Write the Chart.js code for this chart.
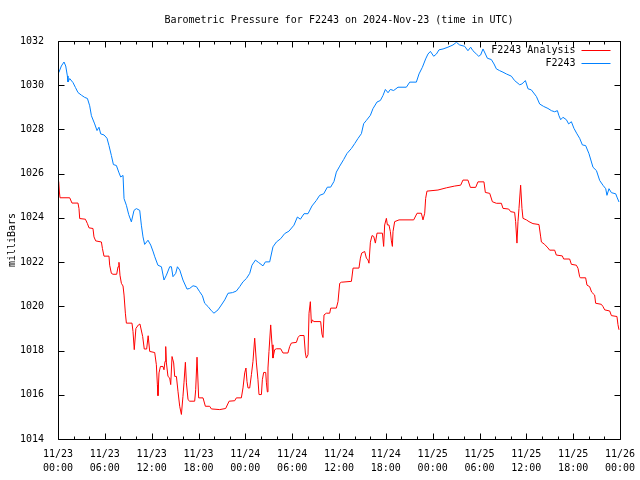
<!DOCTYPE html>
<html>
<head>
<meta charset="utf-8">
<script src="https://cdn.jsdelivr.net/npm/chart.js@4"></script>
<style>
  html, body { margin: 0; padding: 0; background: #fff; }
  canvas { display: block; }
</style>
</head>
<body>
<canvas id="pressure-chart" width="640" height="480"></canvas>
<script>
// hours since 11/23 00:00 UTC
const analysisHours = [0.09, 0.18, 0.26, 1.5, 1.79, 2.56, 2.69, 2.78, 3.51, 3.77, 3.97, 4.48, 4.61, 4.83, 5.56, 5.69, 5.89, 6.53, 6.62, 6.84, 7.05, 7.52, 7.69, 7.81, 7.94, 8.12, 8.33, 8.46, 8.63, 8.76, 9.48, 9.61, 9.77, 9.98, 10.3, 10.5, 10.85, 11.05, 11.36, 11.55, 11.75, 12.39, 12.6, 12.73, 12.81, 12.94, 13.12, 13.45, 13.58, 13.71, 13.8, 13.89, 14.09, 14.31, 14.44, 14.61, 14.82, 14.95, 15.17, 15.37, 15.59, 15.81, 16.01, 16.14, 16.32, 16.45, 16.66, 16.87, 17.51, 17.64, 17.81, 18.02, 18.58, 18.88, 19.43, 19.65, 20.72, 21.48, 21.92, 22.64, 22.85, 23.49, 23.7, 23.92, 24.08, 24.21, 24.34, 24.56, 24.78, 24.98, 25.2, 25.42, 25.62, 25.75, 26.06, 26.18, 26.35, 26.61, 26.7, 26.82, 26.9, 27.03, 27.25, 27.42, 27.54, 27.76, 27.98, 28.53, 28.82, 29.46, 29.68, 29.9, 30.54, 30.75, 30.96, 31.52, 31.69, 31.82, 32.03, 32.16, 32.33, 32.46, 32.59, 32.76, 33.65, 33.82, 33.95, 34.08, 34.38, 34.81, 34.94, 35.66, 35.87, 36.09, 36.3, 37.59, 37.8, 38.56, 38.74, 38.91, 39.29, 39.51, 39.71, 39.84, 40.02, 40.23, 40.45, 40.66, 40.87, 41.56, 41.72, 41.85, 42.07, 42.2, 42.4, 42.58, 42.71, 42.84, 42.92, 43.13, 43.69, 45.57, 46.0, 46.55, 46.76, 46.98, 47.1, 47.27, 48.68, 49.76, 50.82, 51.59, 51.88, 52.52, 52.83, 53.51, 53.8, 54.57, 54.75, 55.31, 55.65, 56.16, 56.8, 57.01, 57.74, 58.0, 58.5, 58.63, 58.8, 58.93, 59.06, 59.27, 59.44, 59.57, 60.01, 60.34, 60.85, 61.62, 61.84, 61.93, 62.35, 62.77, 62.99, 63.63, 63.84, 64.61, 64.78, 65.55, 65.77, 66.41, 66.62, 66.83, 66.92, 67.6, 67.77, 68.11, 68.37, 68.75, 68.88, 69.61, 69.82, 70.04, 70.68, 70.9, 71.61, 71.74, 71.87]
const analysisValues = [1025.65, 1025.17, 1024.91, 1024.91, 1024.67, 1024.67, 1024.42, 1023.97, 1023.94, 1023.74, 1023.55, 1023.52, 1023.14, 1022.96, 1022.91, 1022.62, 1022.27, 1022.27, 1021.86, 1021.49, 1021.45, 1021.45, 1021.79, 1021.99, 1021.41, 1021.04, 1020.92, 1020.51, 1019.69, 1019.24, 1019.24, 1018.86, 1018.04, 1019.0, 1019.16, 1019.2, 1018.63, 1018.07, 1018.07, 1018.67, 1017.96, 1017.91, 1017.36, 1016.46, 1015.96, 1016.99, 1017.28, 1017.28, 1017.13, 1017.51, 1018.18, 1017.44, 1016.83, 1016.76, 1016.46, 1017.73, 1017.44, 1016.83, 1016.83, 1016.16, 1015.48, 1015.11, 1015.93, 1016.54, 1017.47, 1016.54, 1015.78, 1015.71, 1015.71, 1016.23, 1017.7, 1015.86, 1015.86, 1015.48, 1015.48, 1015.36, 1015.33, 1015.38, 1015.71, 1015.73, 1015.86, 1015.86, 1016.31, 1016.99, 1017.21, 1016.61, 1016.31, 1016.31, 1016.91, 1017.51, 1018.56, 1017.44, 1016.68, 1016.01, 1016.01, 1016.68, 1017.01, 1017.01, 1016.54, 1016.13, 1017.21, 1017.96, 1019.16, 1018.26, 1017.66, 1018.04, 1018.08, 1018.08, 1017.89, 1017.89, 1018.18, 1018.34, 1018.37, 1018.59, 1018.68, 1018.68, 1017.89, 1017.66, 1017.81, 1019.69, 1020.21, 1019.24, 1019.39, 1019.31, 1019.31, 1018.74, 1018.59, 1019.61, 1019.69, 1019.69, 1019.92, 1019.92, 1020.21, 1021.04, 1021.09, 1021.13, 1021.73, 1021.73, 1022.18, 1022.41, 1022.48, 1022.18, 1022.1, 1021.95, 1022.9, 1023.2, 1023.16, 1022.86, 1023.31, 1023.31, 1022.71, 1023.68, 1023.98, 1023.68, 1023.68, 1023.38, 1022.96, 1022.71, 1023.38, 1023.83, 1023.91, 1023.91, 1024.21, 1024.21, 1023.91, 1024.21, 1024.88, 1025.21, 1025.26, 1025.36, 1025.44, 1025.48, 1025.71, 1025.71, 1025.38, 1025.38, 1025.63, 1025.63, 1025.15, 1025.11, 1024.73, 1024.66, 1024.66, 1024.43, 1024.4, 1024.28, 1024.25, 1023.83, 1022.86, 1023.83, 1024.43, 1025.48, 1024.43, 1023.98, 1023.91, 1023.83, 1023.74, 1023.7, 1023.14, 1022.91, 1022.8, 1022.64, 1022.54, 1022.54, 1022.32, 1022.28, 1022.14, 1022.14, 1021.9, 1021.86, 1021.72, 1021.34, 1021.29, 1021.29, 1020.96, 1020.89, 1020.64, 1020.51, 1020.14, 1020.09, 1019.99, 1019.84, 1019.79, 1019.58, 1019.54, 1019.17, 1018.94]

const stationHours = [0.1, 0.43, 0.77, 0.99, 1.2, 1.28, 1.5, 1.92, 2.23, 2.56, 3.0, 3.42, 3.77, 4.06, 4.28, 4.7, 5.0, 5.25, 5.47, 5.9, 6.28, 6.53, 6.84, 7.1, 7.48, 7.78, 8.03, 8.33, 8.46, 8.76, 9.06, 9.4, 9.74, 10.04, 10.47, 10.68, 10.89, 11.1, 11.53, 11.88, 12.2, 12.4, 12.8, 13.25, 13.58, 13.89, 14.31, 14.53, 14.73, 15.08, 15.3, 15.6, 16.01, 16.53, 16.87, 17.3, 17.73, 18.15, 18.5, 18.79, 19.22, 19.65, 19.98, 20.5, 20.93, 21.36, 21.78, 22.35, 22.85, 23.28, 23.7, 24.14, 24.56, 24.85, 25.29, 25.71, 26.26, 26.57, 27.12, 27.54, 27.98, 28.53, 29.04, 29.59, 30.23, 30.67, 31.05, 31.52, 32.03, 32.54, 33.1, 33.52, 34.04, 34.51, 34.93, 35.36, 35.66, 36.09, 36.6, 37.02, 37.59, 38.01, 38.43, 38.87, 39.16, 39.51, 40.02, 40.35, 40.87, 41.3, 41.64, 41.94, 42.28, 42.58, 43.0, 43.56, 44.63, 45.06, 45.91, 46.25, 46.68, 47.1, 47.4, 47.71, 48.13, 48.48, 48.81, 49.33, 49.96, 50.6, 51.04, 51.46, 52.1, 52.52, 52.87, 53.16, 53.6, 53.9, 54.15, 54.45, 54.76, 55.01, 55.52, 55.86, 56.16, 56.58, 57.01, 57.44, 58.08, 58.5, 59.15, 59.44, 59.88, 60.21, 60.64, 61.29, 61.71, 62.22, 62.77, 63.21, 63.63, 63.98, 64.18, 64.4, 64.69, 65.13, 65.42, 65.77, 66.1, 66.49, 66.83, 67.18, 67.6, 68.03, 68.54, 68.98, 69.4, 69.83, 70.17, 70.33, 70.59, 70.9, 71.45, 71.61, 71.87]
const stationValues = [1030.57, 1030.87, 1031.05, 1030.87, 1030.42, 1030.15, 1030.3, 1030.12, 1029.9, 1029.67, 1029.55, 1029.45, 1029.4, 1029.07, 1028.62, 1028.25, 1027.95, 1028.1, 1027.8, 1027.75, 1027.6, 1027.27, 1026.82, 1026.41, 1026.37, 1026.07, 1025.85, 1025.92, 1024.87, 1024.57, 1024.15, 1023.82, 1024.34, 1024.42, 1024.34, 1023.67, 1023.14, 1022.8, 1022.99, 1022.77, 1022.46, 1022.24, 1021.86, 1021.79, 1021.19, 1021.41, 1021.79, 1021.79, 1021.34, 1021.49, 1021.79, 1021.64, 1021.19, 1020.78, 1020.81, 1020.93, 1020.89, 1020.66, 1020.48, 1020.14, 1019.99, 1019.8, 1019.69, 1019.84, 1020.06, 1020.29, 1020.59, 1020.62, 1020.69, 1020.89, 1021.11, 1021.26, 1021.49, 1021.86, 1022.09, 1021.98, 1021.83, 1022.01, 1022.01, 1022.69, 1022.91, 1023.06, 1023.29, 1023.4, 1023.67, 1024.04, 1023.94, 1024.19, 1024.19, 1024.54, 1024.79, 1025.02, 1025.09, 1025.39, 1025.39, 1025.65, 1026.07, 1026.34, 1026.64, 1026.91, 1027.14, 1027.36, 1027.59, 1027.81, 1028.26, 1028.41, 1028.64, 1028.94, 1029.24, 1029.31, 1029.54, 1029.81, 1029.66, 1029.81, 1029.76, 1029.91, 1029.91, 1030.14, 1030.14, 1030.51, 1030.81, 1031.19, 1031.41, 1031.53, 1031.31, 1031.41, 1031.6, 1031.64, 1031.72, 1031.82, 1031.94, 1031.82, 1031.76, 1031.56, 1031.72, 1031.56, 1031.41, 1031.31, 1031.37, 1031.64, 1031.41, 1031.22, 1031.16, 1030.96, 1030.74, 1030.66, 1030.59, 1030.51, 1030.41, 1030.21, 1030.02, 1030.06, 1030.21, 1029.84, 1029.79, 1029.49, 1029.15, 1029.04, 1028.95, 1028.85, 1028.8, 1028.85, 1028.62, 1028.44, 1028.55, 1028.44, 1028.25, 1028.35, 1028.05, 1027.8, 1027.6, 1027.3, 1027.27, 1026.9, 1026.29, 1026.14, 1025.69, 1025.47, 1025.32, 1025.02, 1025.32, 1025.14, 1025.09, 1024.94, 1024.72]

// tick labels, one per 6 hours
const xTickDates = ['11/23', '11/23', '11/23', '11/23', '11/24', '11/24', '11/24', '11/24', '11/25', '11/25', '11/25', '11/25', '11/26']
const xTickTimes = ['00:00', '06:00', '12:00', '18:00', '00:00', '06:00', '12:00', '18:00', '00:00', '06:00', '12:00', '18:00', '00:00']

const toPoints = (xs, ys) => xs.map((h, i) => ({ x: h, y: ys[i] }))

// gnuplot style box: border all round, ticks pointing inward, mirrored
const gnuplotFrame = {
    id: 'gnuplotFrame',
    afterDatasetsDraw(chart) {
        const { ctx, chartArea: a, scales: { x, y } } = chart
        const L = Math.round(a.left) + 0.5, R = Math.round(a.right) + 0.5
        const T = Math.round(a.top) + 0.5, B = Math.round(a.bottom) + 0.5
        ctx.save()
        ctx.strokeStyle = '#000'
        ctx.lineWidth = 1
        ctx.beginPath()
        x.ticks.forEach(t => {
            const px = Math.round(x.getPixelForValue(t.value)) + 0.5
            const len = t.value % 6 === 0 ? 6 : 3
            ctx.moveTo(px, B); ctx.lineTo(px, B - len)
            ctx.moveTo(px, T); ctx.lineTo(px, T + len)
        })
        y.ticks.forEach(t => {
            const py = Math.round(y.getPixelForValue(t.value)) + 0.5
            ctx.moveTo(L, py); ctx.lineTo(L + 6, py)
            ctx.moveTo(R, py); ctx.lineTo(R - 6, py)
        })
        ctx.rect(L, T, R - L, B - T)
        ctx.stroke()

        // key in the top right corner: text then a line sample
        ctx.font = '10px "DejaVu Sans Mono"'
        ctx.textAlign = 'right'
        ctx.textBaseline = 'middle'
        ctx.fillStyle = '#000'
        chart.data.datasets.forEach((ds, i) => {
            const ky = Math.round(a.top + 9 + i * 13) + 0.5
            ctx.fillText(ds.label, R - 45, ky)
            ctx.beginPath()
            ctx.strokeStyle = ds.borderColor
            ctx.moveTo(R - 39, ky)
            ctx.lineTo(R - 10, ky)
            ctx.stroke()
        })
        ctx.restore()
    },
}

Chart.defaults.font.family = '"DejaVu Sans Mono", monospace'
Chart.defaults.font.size = 10
Chart.defaults.color = '#000'

const pressure_chart = () => {
    const ctx = document.getElementById('pressure-chart')

    new Chart(ctx, {
        type: 'line',
        data: {
            datasets: [{
                label: 'F2243 Analysis',
                data: toPoints(analysisHours, analysisValues),
                borderColor: 'rgb(255, 0, 0)',
                borderWidth: 1,
                pointRadius: 0,
                tension: 0,
            }, {
                label: 'F2243',
                data: toPoints(stationHours, stationValues),
                borderColor: 'rgb(0, 128, 255)',
                borderWidth: 1,
                pointRadius: 0,
                tension: 0,
            }],
        },
        options: {
            responsive: false,
            animation: false,
            devicePixelRatio: 1,
            layout: { padding: { left: 0, right: 20, top: 0, bottom: 0 } },
            plugins: {
                legend: { display: false },
                tooltip: { enabled: false },
                title: {
                    display: true,
                    fullSize: false,
                    text: 'Barometric Pressure for F2243 on 2024-Nov-23 (time in UTC)',
                    font: { size: 10, weight: 'normal', lineHeight: 1 },
                    padding: { top: 15, bottom: 16 },
                    color: '#000',
                },
            },
            scales: {
                x: {
                    type: 'linear',
                    min: 0,
                    max: 72,
                    grid: { display: false },
                    border: { display: false },
                    ticks: {
                        stepSize: 2,
                        autoSkip: false,
                        maxRotation: 0,
                        padding: 0,
                        font: { lineHeight: 1.4 },
                        callback: v => v % 6 === 0 ? [xTickDates[v / 6], xTickTimes[v / 6]] : '',
                    },
                    afterFit: s => { s.height = 41 },
                },
                y: {
                    min: 1014,
                    max: 1032,
                    grid: { display: false },
                    border: { display: false },
                    ticks: { stepSize: 2, padding: 6, callback: v => String(v) },
                    title: {
                        display: true,
                        text: 'milliBars',
                        padding: { top: 6, bottom: 0 },
                    },
                    afterFit: s => { s.width = 58 },
                },
            },
        },
        plugins: [gnuplotFrame],
    })
}

pressure_chart()
</script>
</body>
</html>
